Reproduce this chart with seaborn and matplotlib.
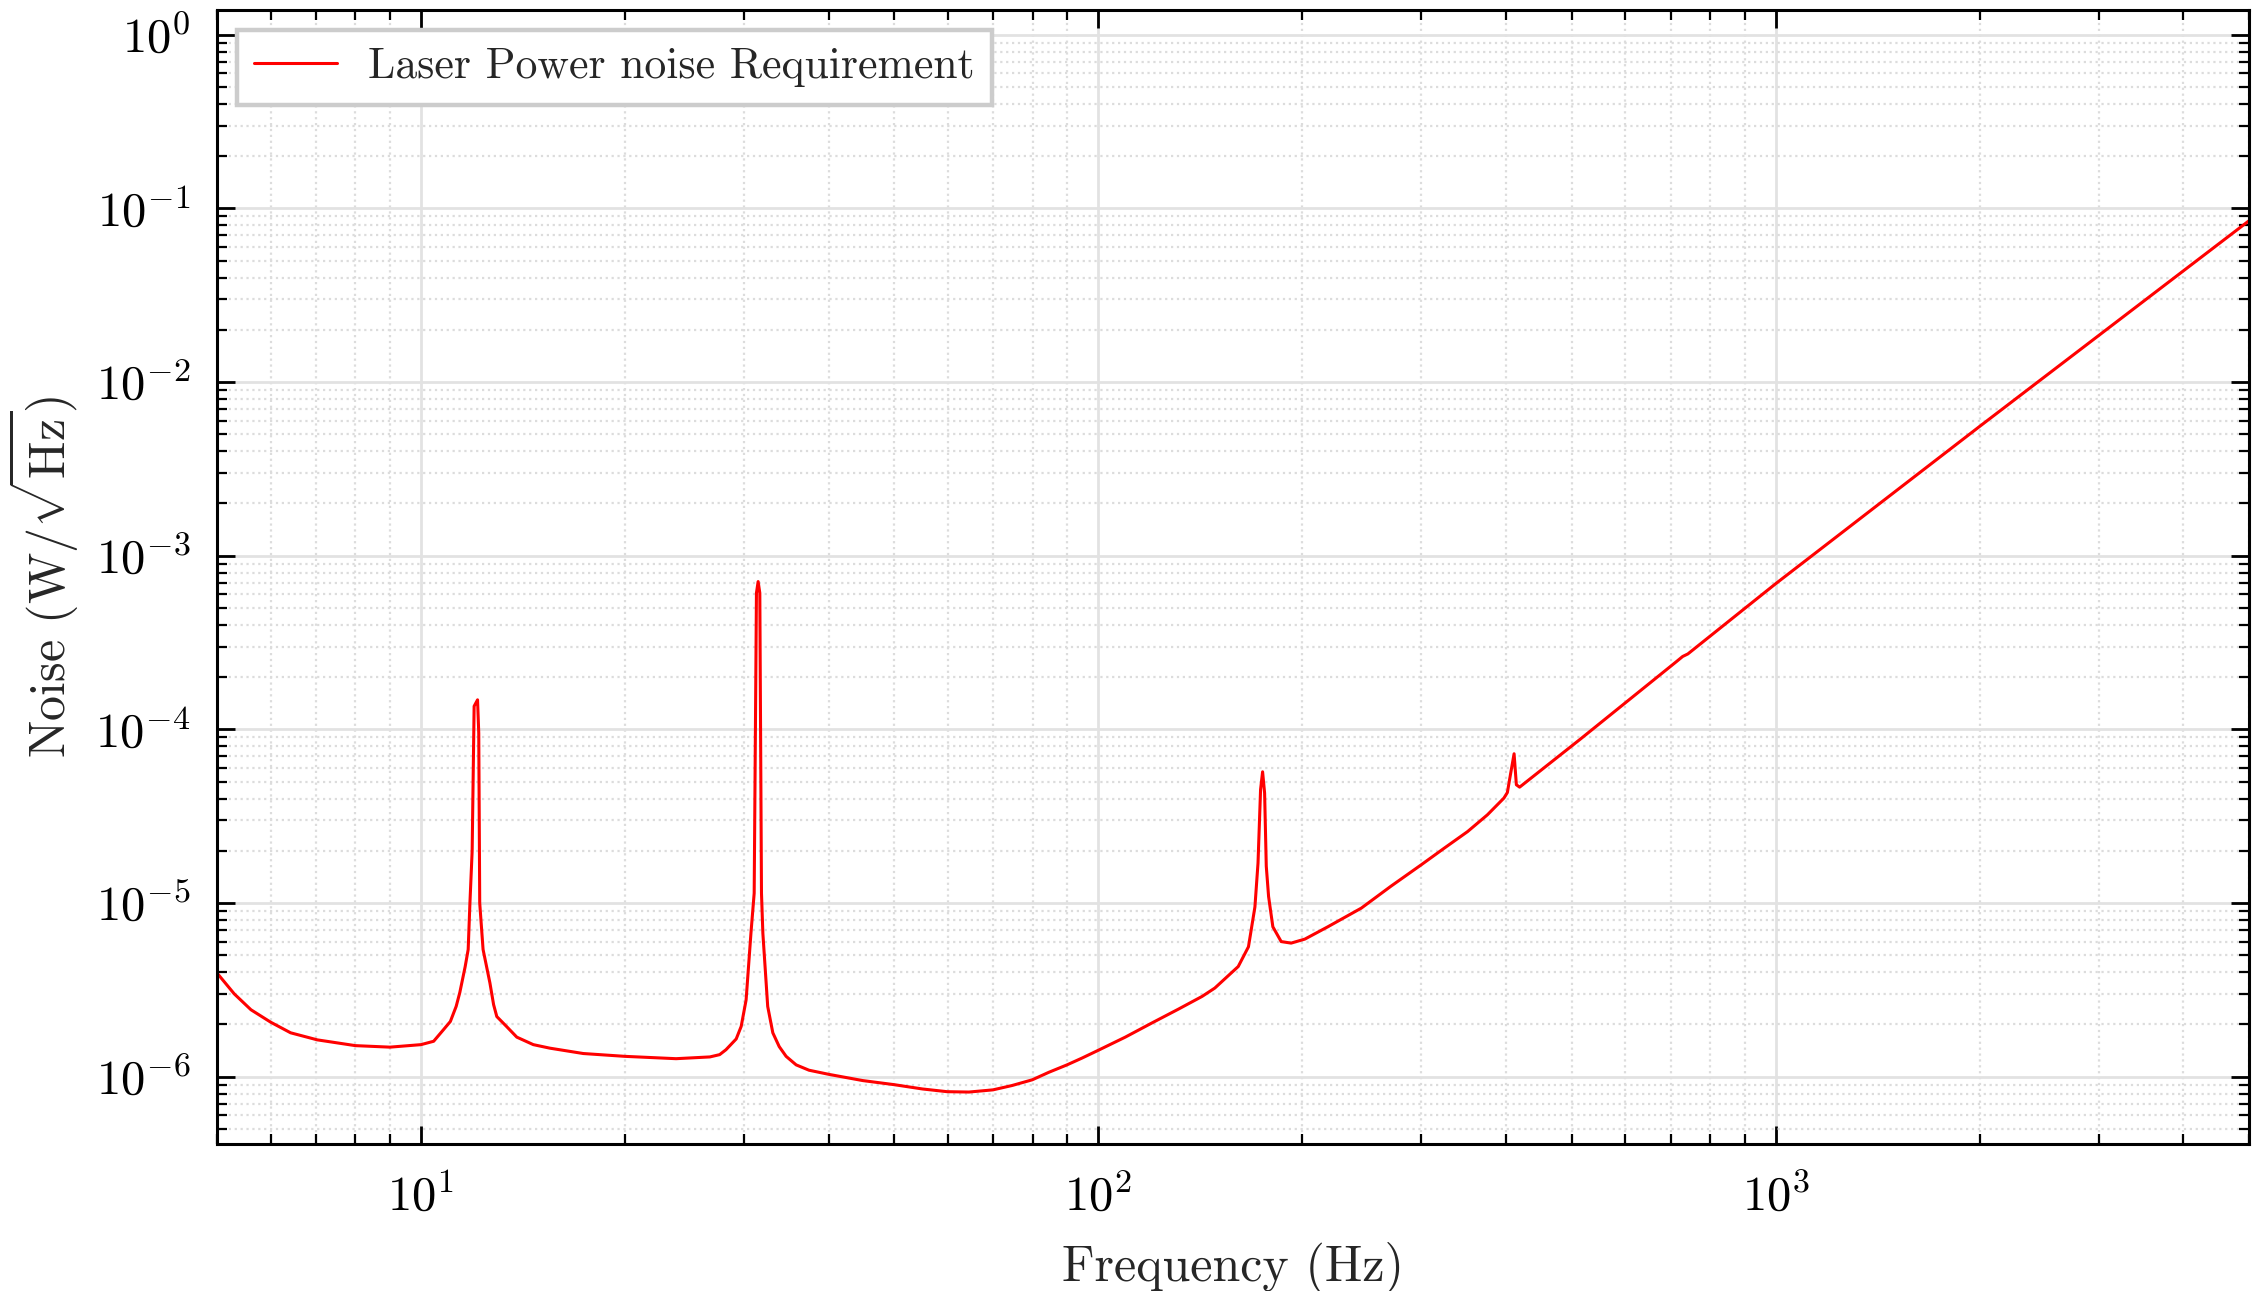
import numpy as np
import matplotlib
matplotlib.use("Agg")
import matplotlib.pyplot as plt
import matplotlib.ticker as mticker
import seaborn as sns

# values (frequency in Hz, noise in W/sqrt(Hz))
freq = [5.0, 5.3, 5.61, 6.0, 6.42, 7.03, 8.0, 9.0, 10.0, 10.44, 10.8, 11.05, 11.27,
        11.41, 11.62, 11.74, 11.81, 11.90, 11.98, 12.12, 12.17, 12.21, 12.35, 12.64,
        12.8, 12.94, 13.37, 13.85, 14.65, 15.5, 17.36, 20.0, 23.8, 26.7, 27.6, 28.2,
        29.2, 29.7, 30.2, 30.4, 30.7, 31.04, 31.28, 31.46, 31.64, 31.82, 31.97, 32.5,
        33.07, 33.8, 34.6, 35.8, 37.4, 40.1, 44.9, 49.95, 55.0, 59.8, 64.4, 69.9, 74.6,
        79.9, 84.5, 89.9, 94.6, 100.0, 109.6, 120.0, 131.3, 142.3, 148.6, 160.9, 166.6,
        170.3, 172.1, 173.6, 174.8, 176.0, 177.0, 178.4, 181.0, 186.2, 192.6, 201.8,
        218.2, 244.5, 270.4, 299.7, 324.1, 350.9, 375.3, 397.0, 401.7, 406.3, 411.0,
        414.2, 418.8, 515.0, 714.0, 729.0, 742.0, 1000.0, 2000.0, 5000.0]
noise = [3.95e-6, 3.0e-6, 2.43e-6, 2.06e-6, 1.79e-6, 1.63e-6, 1.51e-6, 1.48e-6, 1.53e-6,
         1.60e-6, 1.87e-6, 2.08e-6, 2.54e-6, 3.05e-6, 4.3e-6, 5.4e-6, 1.0e-5, 2.0e-5,
         1.36e-4, 1.48e-4, 9.5e-5, 1.0e-5, 5.4e-6, 3.47e-6, 2.6e-6, 2.22e-6, 1.95e-6,
         1.69e-6, 1.53e-6, 1.46e-6, 1.36e-6, 1.31e-6, 1.27e-6, 1.30e-6, 1.34e-6, 1.43e-6,
         1.65e-6, 1.95e-6, 2.77e-6, 3.95e-6, 6.7e-6, 1.14e-5, 6.1e-4, 7.1e-4, 6.1e-4,
         1.14e-5, 6.7e-6, 2.54e-6, 1.79e-6, 1.49e-6, 1.31e-6, 1.17e-6, 1.09e-6, 1.03e-6,
         9.5e-7, 9.0e-7, 8.5e-7, 8.2e-7, 8.16e-7, 8.4e-7, 8.9e-7, 9.6e-7, 1.06e-6,
         1.17e-6, 1.28e-6, 1.42e-6, 1.69e-6, 2.04e-6, 2.45e-6, 2.9e-6, 3.24e-6, 4.31e-6,
         5.6e-6, 9.5e-6, 1.7e-5, 4.5e-5, 5.7e-5, 4.3e-5, 1.63e-5, 1.09e-5, 7.3e-6, 6.0e-6,
         5.88e-6, 6.2e-6, 7.3e-6, 9.35e-6, 1.25e-5, 1.66e-5, 2.07e-5, 2.58e-5, 3.22e-5,
         4.02e-5, 4.33e-5, 5.6e-5, 7.24e-5, 4.8e-5, 4.65e-5, 8.8e-5, 2.46e-4, 2.63e-4,
         2.72e-4, 6.9e-4, 5.55e-3, 8.5e-2]
series_label = "Laser Power noise Requirement"

sns.set_style("ticks")
plt.rcParams["font.family"] = "serif"
plt.rcParams["font.serif"] = ["cmr10"]
plt.rcParams["mathtext.fontset"] = "cm"
plt.rcParams["axes.formatter.use_mathtext"] = True
plt.rcParams["axes.unicode_minus"] = False

fig, ax = plt.subplots(figsize=(11.26, 6.455), dpi=200)
fig.subplots_adjust(left=0.0964, right=0.9987, top=0.9923, bottom=0.1139)

sns.lineplot(x=freq, y=noise, color="red", linewidth=1.1, label=series_label,
             estimator=None, sort=False, ax=ax)

ax.set_xscale("log")
ax.set_yscale("log")
ax.set_xlim(5, 5000)
ax.set_ylim(4.1e-7, 1.39)

ax.yaxis.set_major_locator(mticker.LogLocator(base=10, numticks=20))
ax.yaxis.set_minor_locator(mticker.LogLocator(base=10, subs=np.arange(2, 10), numticks=100))
ax.xaxis.set_major_locator(mticker.LogLocator(base=10, numticks=20))
ax.xaxis.set_minor_locator(mticker.LogLocator(base=10, subs=np.arange(2, 10), numticks=100))
fmt = mticker.FuncFormatter(lambda v, pos: r"$10^{%d}$" % int(round(np.log10(v))))
ax.xaxis.set_major_formatter(fmt)
ax.yaxis.set_major_formatter(fmt)
ax.xaxis.set_minor_formatter(mticker.NullFormatter())
ax.yaxis.set_minor_formatter(mticker.NullFormatter())

ax.grid(which="major", color="#e2e2e2", linewidth=1.0, linestyle="-")
ax.grid(which="minor", color="#dcdcdc", linewidth=0.8, linestyle=":")
ax.set_axisbelow(True)

for s in ax.spines.values():
    s.set_color("black")
    s.set_linewidth(1.1)

ax.tick_params(which="both", direction="in", top=True, right=True, colors="black")
ax.tick_params(which="major", length=6.5, width=1.0, labelsize=17.5)
ax.tick_params(axis="x", which="major", pad=11)
ax.tick_params(axis="y", which="major", pad=9.5)
ax.tick_params(which="minor", length=3.6, width=0.8)

ax.set_xlabel("Frequency (Hz)", fontsize=18, labelpad=7.5)
ax.set_ylabel(r"Noise (W/$\sqrt{\mathrm{Hz}}$)", fontsize=18, labelpad=5.5)

leg = ax.legend(loc="upper left", fancybox=False, edgecolor="#cccccc", framealpha=1,
                fontsize=15.75, handlelength=1.9, handletextpad=0.7, borderaxespad=0.45)
leg.get_frame().set_linewidth(1.6)

fig.savefig("out.png", dpi=200)
